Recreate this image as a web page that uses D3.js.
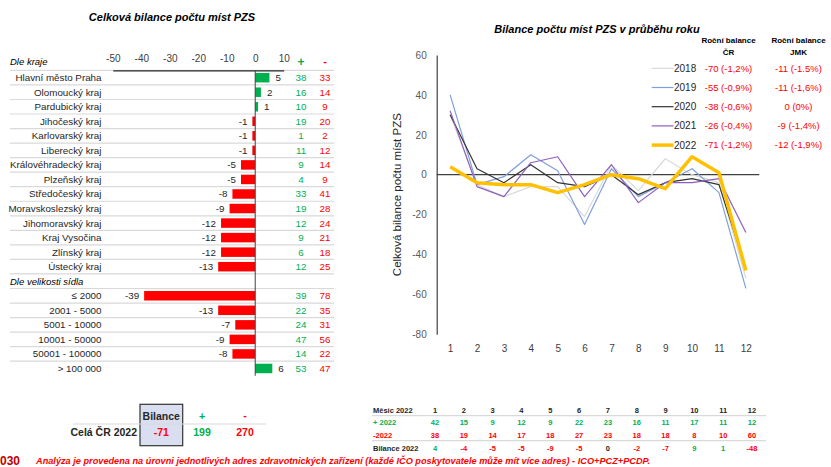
<!DOCTYPE html>
<html>
<head>
<meta charset="utf-8">
<script src="https://cdn.jsdelivr.net/npm/d3@7"></script>
<style>
  body { margin: 0; background: #fff; }
  svg { display: block; font-family: "Liberation Sans", Arial, sans-serif; }
</style>
</head>
<body>
<div id="chart"></div>
<script>
// levý graf - kraje
const regionNames = ["Hlavní město Praha", "Olomoucký kraj", "Pardubický kraj", "Jihočeský kraj", "Karlovarský kraj",
  "Liberecký kraj", "Královéhradecký kraj", "Plzeňský kraj", "Středočeský kraj", "Moravskoslezský kraj",
  "Jihomoravský kraj", "Kraj Vysočina", "Zlínský kraj", "Ústecký kraj"];
const regionBalance = [5, 2, 1, -1, -1, -1, -5, -5, -8, -9, -12, -12, -12, -13];
const regionPlus = [38, 16, 10, 19, 1, 11, 9, 4, 33, 19, 12, 9, 6, 12];
const regionMinus = [33, 14, 9, 20, 2, 12, 14, 9, 41, 28, 24, 21, 18, 25];

// dle velikosti sídla
const sizeNames = ["≤ 2000", "2001 - 5000", "5001 - 10000", "10001 - 50000", "50001 - 100000", "> 100 000"];
const sizeBalance = [-39, -13, -7, -9, -8, 6];
const sizePlus = [39, 22, 24, 47, 14, 53];
const sizeMinus = [78, 35, 31, 56, 22, 47];

const leftTicks = [-50, -40, -30, -20, -10, 0, 10];

// pravý graf - měsíce
const months = [1, 2, 3, 4, 5, 6, 7, 8, 9, 10, 11, 12];
const years = ["2018", "2019", "2020", "2021", "2022"];
const series2018 = [30, -5, -11, -6, -6, -21, 5, -8, 8, 0, -4, -52];
const series2019 = [40, -5, -1, 10, 2, -25, 3, -11, -4, 3, -9, -57];
const series2020 = [30, 3, -4, 5, -4, -6, 0, -10, -4, -2, -5, -47];
const series2021 = [32, -6, -11, 6, 9, -11, 5, -14, -4, -4, -2, -29];
const series2022 = [4, -4, -5, -5, -9, -5, 0, -2, -7, 9, 1, -48];
const yearlyCR = ["-70 (-1,2%)", "-55 (-0,9%)", "-38 (-0,6%)", "-26 (-0,4%)", "-71 (-1,2%)"];
const yearlyJMK = ["-11 (-1.5%)", "-11 (-1,6%)", "0 (0%)", "-9 (-1,4%)", "-12 (-1,9%)"];
const rightTicks = [60, 40, 20, 0, -20, -40, -60, -80];

// tabulka 2022
const plus2022 = [42, 15, 9, 12, 9, 22, 23, 16, 11, 17, 11, 12];
const minus2022 = [38, 19, 14, 17, 18, 27, 23, 18, 18, 8, 10, 60];
const total = { balance: -71, plus: 199, minus: 270 };

const GREEN = "#00b050", RED = "#ff0000", DARK = "#404040";

const svg = d3.select("#chart").append("svg").attr("width", 831).attr("height", 467);

// ---------- levý graf ----------
const rows = [];
regionNames.forEach((n, i) => rows.push({ key: "r" + i, name: n, v: regionBalance[i], p: regionPlus[i], m: regionMinus[i] }));
rows.push({ key: "hdr", header: "Dle velikosti sídla" });
sizeNames.forEach((n, i) => rows.push({ key: "s" + i, name: n, v: sizeBalance[i], p: sizePlus[i], m: sizeMinus[i] }));

const topY = 70.4;
const y = d3.scaleBand().domain(rows.map(d => d.key)).range([topY, topY + rows.length * 14.54]);
const x = d3.scaleLinear().domain([-50, 10]).range([112.8, 283.7]);

svg.append("text").attr("x", 172).attr("y", 21).attr("text-anchor", "middle")
   .style("font-size", "11px").style("font-weight", "bold").style("font-style", "italic")
   .text("Celková bilance počtu míst PZS");

// řádkové čáry
svg.append("g").selectAll("line").data(rows.slice(0, -1)).join("line")
   .attr("x1", 10).attr("x2", 334)
   .attr("y1", d => y(d.key) + y.step()).attr("y2", d => y(d.key) + y.step())
   .attr("stroke", "#d9d9d9").attr("stroke-width", 1.2);
svg.append("line").attr("x1", 10).attr("x2", 334).attr("y1", topY).attr("y2", topY)
   .attr("stroke", "#d9d9d9").attr("stroke-width", 1.2);

const ax = svg.append("g").attr("transform", `translate(0,${topY})`)
   .call(d3.axisTop(x).tickValues(leftTicks).tickFormat(d => String(d)).tickSize(0).tickSizeOuter(0).tickPadding(8));
ax.select(".domain").attr("stroke", "#262626").attr("stroke-width", 1.2);
ax.selectAll("text").style("font-size", "10px").attr("fill", DARK).style("font-family", "Liberation Sans, Arial");

svg.append("text").attr("x", 10).attr("y", 65).style("font-size", "9.5px").style("font-style", "italic").text("Dle kraje");
svg.append("text").attr("x", 301).attr("y", 66).attr("text-anchor", "middle").attr("fill", GREEN)
   .style("font-size", "12px").style("font-weight", "bold").text("+");
svg.append("text").attr("x", 325).attr("y", 65).attr("text-anchor", "middle").attr("fill", RED)
   .style("font-size", "11px").style("font-weight", "bold").text("-");

const dataRows = rows.filter(d => !d.header);
const bh = 9.5;
svg.append("g").selectAll("rect").data(dataRows).join("rect")
   .attr("x", d => x(Math.min(0, d.v)))
   .attr("y", d => y(d.key) + (y.bandwidth() - bh) / 2)
   .attr("width", d => Math.abs(x(d.v) - x(0)))
   .attr("height", bh)
   .attr("fill", d => d.v >= 0 ? GREEN : RED);

svg.append("line").attr("x1", x(0)).attr("x2", x(0)).attr("y1", topY).attr("y2", y.range()[1])
   .attr("stroke", "#404040").attr("stroke-width", 1);

const rowTxt = svg.append("g").style("font-size", "9.8px");
rowTxt.selectAll(".cat").data(dataRows).join("text")
   .attr("x", 101.5).attr("y", d => y(d.key) + y.bandwidth() / 2).attr("dy", "0.35em")
   .attr("text-anchor", "end").attr("fill", "#262626").text(d => d.name);
rowTxt.selectAll(".val").data(dataRows).join("text")
   .attr("x", d => d.v >= 0 ? x(d.v) + 6 : x(d.v) - 5)
   .attr("y", d => y(d.key) + y.bandwidth() / 2).attr("dy", "0.35em")
   .attr("text-anchor", d => d.v >= 0 ? "start" : "end").attr("fill", "#262626").text(d => d.v);
rowTxt.selectAll(".plus").data(dataRows).join("text")
   .attr("x", 301).attr("y", d => y(d.key) + y.bandwidth() / 2).attr("dy", "0.35em")
   .attr("text-anchor", "middle").attr("fill", GREEN).text(d => d.p);
rowTxt.selectAll(".minus").data(dataRows).join("text")
   .attr("x", 325).attr("y", d => y(d.key) + y.bandwidth() / 2).attr("dy", "0.35em")
   .attr("text-anchor", "middle").attr("fill", RED).text(d => d.m);
rows.filter(d => d.header).forEach(d => {
  svg.append("text").attr("x", 10).attr("y", y(d.key) + y.bandwidth() / 2).attr("dy", "0.35em")
     .style("font-size", "9.5px").style("font-style", "italic").text(d.header);
});

// souhrnná tabulka
svg.append("rect").attr("x", 140).attr("y", 404.3).attr("width", 42.7).attr("height", 41.4)
   .attr("fill", "#d9dff0").attr("stroke", "#333").attr("stroke-width", 1.2);
svg.append("line").attr("x1", 73).attr("x2", 266).attr("y1", 424).attr("y2", 424).attr("stroke", "#d9d9d9").attr("stroke-width", 1.2);
const sum = svg.append("g").style("font-size", "10.5px").style("font-weight", "bold");
sum.append("text").attr("x", 161.3).attr("y", 420).attr("text-anchor", "middle").attr("fill", "#262626").text("Bilance");
sum.append("text").attr("x", 202).attr("y", 420).attr("text-anchor", "middle").attr("fill", GREEN).text("+");
sum.append("text").attr("x", 245).attr("y", 419).attr("text-anchor", "middle").attr("fill", RED).text("-");
sum.append("text").attr("x", 137).attr("y", 436).attr("text-anchor", "end").attr("fill", "#262626").text("Celá ČR 2022");
sum.append("text").attr("x", 161.3).attr("y", 436).attr("text-anchor", "middle").attr("fill", RED).text(total.balance);
sum.append("text").attr("x", 202).attr("y", 436).attr("text-anchor", "middle").attr("fill", GREEN).text(total.plus);
sum.append("text").attr("x", 245).attr("y", 436).attr("text-anchor", "middle").attr("fill", RED).text(total.minus);

// ---------- pravý graf ----------
const xr = d3.scalePoint().domain(months).range([436.7, 759.3]).padding(0.5);
const yr = d3.scaleLinear().domain([-80, 60]).range([334.3, 55]);

svg.append("text").attr("x", 597).attr("y", 33).attr("text-anchor", "middle")
   .style("font-size", "11px").style("font-weight", "bold").style("font-style", "italic")
   .text("Bilance počtu míst PZS v průběhu roku");

const yAx = svg.append("g").attr("transform", "translate(436.7,0)")
   .call(d3.axisLeft(yr).tickValues(rightTicks).tickFormat(d => String(d)).tickSize(0).tickPadding(10).tickSizeOuter(0));
yAx.select(".domain").attr("stroke", "#404040").attr("stroke-width", 1.2);
yAx.selectAll("text").style("font-size", "10px").attr("fill", "#595959").style("font-family", "Liberation Sans, Arial");

svg.append("line").attr("x1", 436.7).attr("x2", 759.3).attr("y1", yr(0)).attr("y2", yr(0))
   .attr("stroke", "#404040").attr("stroke-width", 1.2);

const xAx = svg.append("g").attr("transform", "translate(0,343)")
   .call(d3.axisBottom(xr).tickSize(0).tickPadding(2));
xAx.select(".domain").remove();
xAx.selectAll("text").style("font-size", "10px").attr("fill", "#404040").style("font-family", "Liberation Sans, Arial");

svg.append("text").attr("transform", `translate(401,${(55 + 334.3) / 2}) rotate(-90)`)
   .attr("text-anchor", "middle").style("font-size", "11.5px").attr("fill", "#262626")
   .text("Celková bilance počtu míst PZS");

const seriesList = [series2018, series2019, series2020, series2021, series2022];
const colors = ["#d9d9d9", "#7f9fdc", "#333333", "#8e5fbf", "#ffc000"];
const widths = [1.2, 1.2, 1.2, 1.2, 3.5];
const line = d3.line().x((d, i) => xr(months[i])).y(d => yr(d));
svg.append("g").selectAll("path").data(seriesList).join("path")
   .attr("d", line).attr("fill", "none")
   .attr("stroke", (d, i) => colors[i]).attr("stroke-width", (d, i) => widths[i])
   .attr("stroke-linejoin", "round");

// legenda
const lg = svg.append("g");
lg.append("text").attr("x", 728.5).attr("y", 43).attr("text-anchor", "middle").style("font-size", "8px").style("font-weight", "bold").text("Roční balance");
lg.append("text").attr("x", 728.5).attr("y", 55).attr("text-anchor", "middle").style("font-size", "8px").style("font-weight", "bold").text("ČR");
lg.append("text").attr("x", 798.5).attr("y", 43).attr("text-anchor", "middle").style("font-size", "8px").style("font-weight", "bold").text("Roční balance");
lg.append("text").attr("x", 798.5).attr("y", 55).attr("text-anchor", "middle").style("font-size", "8px").style("font-weight", "bold").text("JMK");
years.forEach((yy, i) => {
  const ly = 68.3 + i * 19.2;
  lg.append("line").attr("x1", 651.7).attr("x2", 673.5).attr("y1", ly).attr("y2", ly)
    .attr("stroke", colors[i]).attr("stroke-width", widths[i]);
  lg.append("text").attr("x", 674).attr("y", ly).attr("dy", "0.35em").style("font-size", "10px").attr("fill", "#262626").text(yy);
  lg.append("text").attr("x", 728.5).attr("y", ly).attr("dy", "0.35em").attr("text-anchor", "middle")
    .style("font-size", "9.5px").attr("fill", RED).text(yearlyCR[i]);
  lg.append("text").attr("x", 798.5).attr("y", ly).attr("dy", "0.35em").attr("text-anchor", "middle")
    .style("font-size", "9.5px").attr("fill", RED).text(yearlyJMK[i]);
});

// tabulka měsíců 2022
const colX = d3.scalePoint().domain(months).range([435, 752]);
const tb = svg.append("g").style("font-size", "7.5px").style("font-weight", "bold");
const rowY = [410, 422.7, 435.7, 448.3];
tb.append("text").attr("x", 373).attr("y", rowY[0]).attr("dy", "0.35em").attr("fill", "#262626").text("Měsíc 2022");
tb.append("text").attr("x", 373).attr("y", rowY[1]).attr("dy", "0.35em").attr("fill", GREEN).text("+ 2022");
tb.append("text").attr("x", 373).attr("y", rowY[2]).attr("dy", "0.35em").attr("fill", RED).text("-2022");
tb.append("text").attr("x", 373).attr("y", rowY[3]).attr("dy", "0.35em").attr("fill", "#262626").text("Bilance 2022");
[415.7, 440.7].forEach(ly => tb.append("line").attr("x1", 372).attr("x2", 766).attr("y1", ly).attr("y2", ly)
   .attr("stroke", "#d9d9d9").attr("stroke-width", 1.2));
months.forEach((m, i) => {
  tb.append("text").attr("x", colX(m)).attr("y", rowY[0]).attr("dy", "0.35em").attr("text-anchor", "middle").attr("fill", "#262626").text(m);
  tb.append("text").attr("x", colX(m)).attr("y", rowY[1]).attr("dy", "0.35em").attr("text-anchor", "middle").attr("fill", GREEN).text(plus2022[i]);
  tb.append("text").attr("x", colX(m)).attr("y", rowY[2]).attr("dy", "0.35em").attr("text-anchor", "middle").attr("fill", RED).text(minus2022[i]);
  const b = series2022[i];
  tb.append("text").attr("x", colX(m)).attr("y", rowY[3]).attr("dy", "0.35em").attr("text-anchor", "middle")
    .attr("fill", b > 0 ? GREEN : b < 0 ? RED : "#262626").text(b);
});

// poznámka
svg.append("text").attr("x", 0).attr("y", 465).style("font-size", "12px").style("font-weight", "bold")
   .attr("fill", "#c00000").text("030");
svg.append("text").attr("x", 36).attr("y", 464).style("font-size", "9.2px").style("font-weight", "bold").style("font-style", "italic")
   .attr("fill", RED)
   .text("Analýza je provedena na úrovni jednotlivých adres zdravotnických zařízení (každé IČO poskytovatele může mít více adres) - ICO+PCZ+PCDP.");
</script>
</body>
</html>
